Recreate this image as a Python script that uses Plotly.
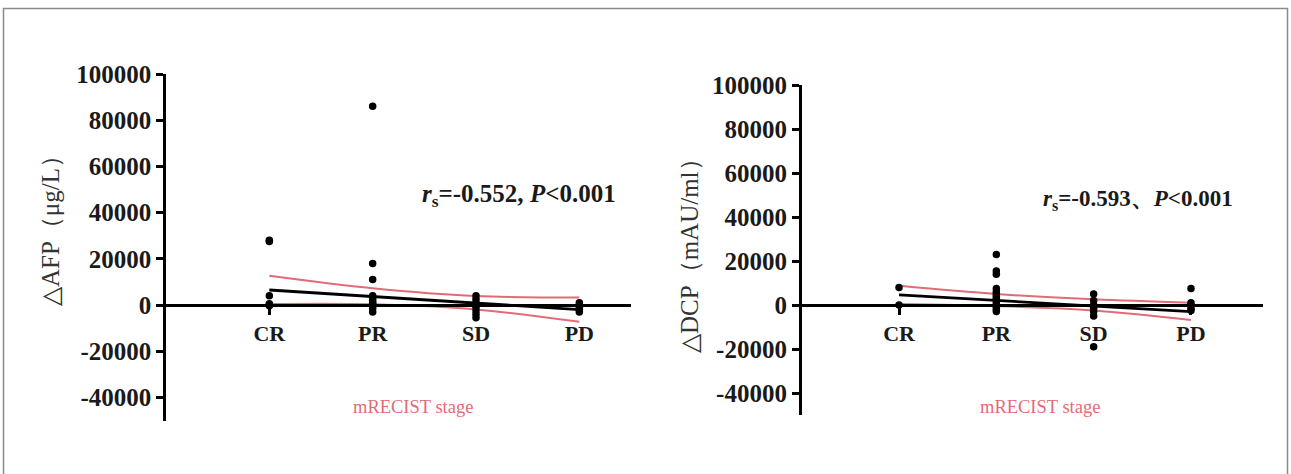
import plotly.graph_objects as go

W, H = 1291, 474

categories = ["CR", "PR", "SD", "PD"]
cat_pos = [1, 2, 3, 4]

# Panel A: delta AFP (ug/L)
afp_points = {
    "CR": [28000, 27500, 4000, 500, 0, -300],
    "PR": [86000, 18000, 11000, 4000, 3000, 2000, 1000, 500, 0, -500, -1500, -3000],
    "SD": [4000, 2500, 1000, 0, -1000, -2500, -4000, -5500],
    "PD": [1000, 0, -1000, -2000, -3000],
}
afp_fit = [6500, 3700, 900, -2000]
afp_upper = [12700, 7300, 3900, 3200]
afp_lower = [400, 300, -1900, -7300]

# Panel B: delta DCP (mAU/ml)
dcp_points = {
    "CR": [8000, 0],
    "PR": [23000, 15500, 14000, 7500, 6000, 5000, 4000, 3000, 2000, 1000, 0, -1000, -2000, -3000],
    "SD": [5000, 2000, 0, -1500, -3000, -5000, -19000],
    "PD": [7500, 1000, 0, -1500, -2500],
}
dcp_fit = [4600, 2100, -400, -3000]
dcp_upper = [8700, 5000, 2600, 1000]
dcp_lower = [500, -500, -2500, -6800]

y_ticks = [-40000, -20000, 0, 20000, 40000, 60000, 80000, 100000]
y_ticktext = ["-40000", "-20000", "0", "20000", "40000", "60000", "80000", "100000"]
y_range = [-50000, 100000]

annot_a = "<b><i>r</i><sub>s</sub>=-0.552, <i>P</i>&lt;0.001</b>"
annot_b = "<b><i>r</i><sub>s</sub>=-0.593、<i>P</i>&lt;0.001</b>"
ytitle_a = "△AFP（μg/L）"
ytitle_b = "△DCP（mAU/ml）"
xtitle = "mRECIST stage"

SERIF = "Liberation Serif"
RED = "#e26b78"

fig = go.Figure()


def px_x(p):
    return p / W


def px_y(p):
    return 1 - p / H


panels = [
    dict(pts=afp_points, fit=afp_fit, up=afp_upper, lo=afp_lower, xa="x", ya="y",
         xdom=[px_x(166), px_x(631)], ydom=[px_y(420.5), px_y(74)], xr=[0, 4.5],
         ann=annot_a, ann_size=25, ann_x=px_x(519), ann_y=px_y(195), yt=ytitle_a, yt_x=px_x(50),
         yt_y=px_y(225), xt_x=px_x(413)),
    dict(pts=dcp_points, fit=dcp_fit, up=dcp_upper, lo=dcp_lower, xa="x2", ya="y2",
         xdom=[px_x(801.7), px_x(1263)], ydom=[px_y(415), px_y(85)], xr=[0, 4.74],
         ann=annot_b, ann_size=23, ann_x=px_x(1138), ann_y=px_y(200), yt=ytitle_b, yt_x=px_x(689),
         yt_y=px_y(250), xt_x=px_x(1040)),
]

for i, p in enumerate(panels):
    # confidence bands
    for band in (p["up"], p["lo"]):
        fig.add_trace(go.Scatter(x=cat_pos, y=band, mode="lines", line=dict(color=RED, width=2, shape="spline"),
                                 xaxis=p["xa"], yaxis=p["ya"], showlegend=False, hoverinfo="skip"))
    # regression line
    fig.add_trace(go.Scatter(x=[cat_pos[0], cat_pos[-1]], y=[p["fit"][0], p["fit"][-1]], mode="lines",
                             line=dict(color="black", width=2.8), xaxis=p["xa"], yaxis=p["ya"],
                             showlegend=False, hoverinfo="skip"))
    # points
    xs, ys = [], []
    for c, pos in zip(categories, cat_pos):
        for v in p["pts"][c]:
            xs.append(pos)
            ys.append(v)
    fig.add_trace(go.Scatter(x=xs, y=ys, mode="markers", marker=dict(color="black", size=7.5),
                             xaxis=p["xa"], yaxis=p["ya"], showlegend=False))

    suffix = "" if i == 0 else "2"
    ydom = p["ydom"]
    zero_pos = ydom[0] + (ydom[1] - ydom[0]) * (0 - y_range[0]) / (y_range[1] - y_range[0])
    fig.update_layout(**{
        "xaxis" + suffix: dict(domain=p["xdom"], range=p["xr"], anchor="free", position=zero_pos,
                               tickvals=cat_pos, ticktext=categories, showline=True, linecolor="black",
                               linewidth=2.5, ticks="outside", ticklen=8, tickwidth=2.5, tickcolor="black",
                               showgrid=False, zeroline=False, automargin=False,
                               tickfont=dict(family=SERIF, size=22, color="#1a1a1a", weight="bold")),
        "yaxis" + suffix: dict(domain=ydom, range=y_range, anchor="x" + suffix, tickvals=y_ticks,
                               ticktext=y_ticktext, automargin=False,
                               showline=True, linecolor="black", linewidth=2.5, ticks="outside",
                               ticklen=7, tickwidth=2.5, tickcolor="black", showgrid=False,
                               zeroline=False,
                               tickfont=dict(family=SERIF, size=25, color="#1a1a1a", weight="bold")),
    })
    fig.add_annotation(text=p["ann"], x=p["ann_x"], y=p["ann_y"], xref="paper", yref="paper",
                       xanchor="center", yanchor="middle",
                       showarrow=False, font=dict(family=SERIF, size=p["ann_size"], color="#1a1a1a"))
    fig.add_annotation(text=p["yt"], x=p["yt_x"], y=p["yt_y"], xref="paper", yref="paper",
                       xanchor="center", yanchor="middle",
                       showarrow=False, textangle=-90, font=dict(family=SERIF, size=25, color="#333333"))
    fig.add_annotation(text=xtitle, x=p["xt_x"], y=px_y(407), xref="paper", yref="paper",
                       xanchor="center", yanchor="middle",
                       showarrow=False, font=dict(family=SERIF, size=18.5, color=RED))

# outer frame
fig.add_shape(type="rect", xref="paper", yref="paper", x0=px_x(3.5), x1=px_x(1287.5), y0=-0.05,
              y1=px_y(8.5), line=dict(color="#8a8a8a", width=1.5))

fig.update_layout(width=W, height=H, autosize=False, margin=dict(l=0, r=0, t=0, b=0, pad=0),
                  plot_bgcolor="white", paper_bgcolor="white", showlegend=False)

fig.write_html("out.html", config={"displayModeBar": False, "responsive": False},
               post_script="document.body.style.margin='0';")
